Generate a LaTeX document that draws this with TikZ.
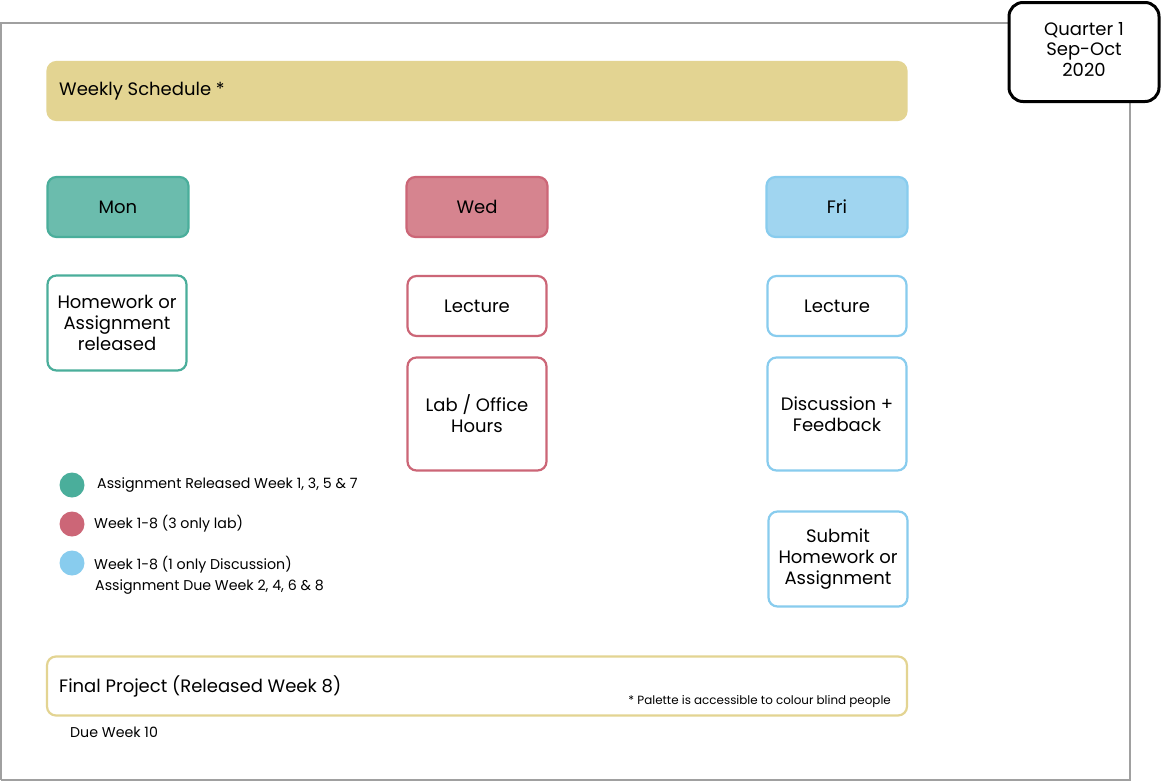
\documentclass[tikz,border=0pt]{standalone}
\usepackage{fontspec}
\setmainfont{Poppins}
\definecolor{ylw}{HTML}{E3D492}
\definecolor{tealF}{HTML}{6BBCAD}
\definecolor{tealS}{HTML}{4AAE9B}
\definecolor{redF}{HTML}{D6848F}
\definecolor{redS}{HTML}{CC6677}
\definecolor{bluF}{HTML}{A0D5F0}
\definecolor{bluS}{HTML}{88CCEE}
\definecolor{frame}{HTML}{A0A0A0}
\tikzset{
  card/.style={draw=#1, line width=2.2pt, rounded corners=9pt, inner sep=2pt,
    align=center, font=\fontsize{18}{21}\selectfont, text=black},
  small/.style={font=\fontsize{14.2}{16}\selectfont, inner sep=0pt, text=black},
  dot/.style={circle, fill=#1, minimum size=25pt, inner sep=0pt},
}
\begin{document}
\begin{tikzpicture}[x=1pt,y=-1pt]
\useasboundingbox (0,0) rectangle (1162,782);
\fill[white] (0,0) rectangle (1162,782);
% outer frame
\draw[frame, line width=1.5pt] (1,780) -- (1,23) -- (1010,23);
\draw[frame, line width=1.5pt] (1130,100) -- (1130,780) -- (1,780);
% quarter
\node[draw=black, fill=white, line width=3pt, rounded corners=14pt,
  minimum width=150pt, minimum height=99pt] (q) at (1084,52) {};
\node[align=center, inner sep=0pt, font=\fontsize{18}{20.5}\selectfont]
  (qt) at (1084,49) {Quarter 1\\Sep-Oct\\2020};
% title bar
\node[card=ylw, fill=ylw, minimum width=859pt, minimum height=58pt] (ws) at (477,91) {};
\node[anchor=west, font=\fontsize{18}{21}\selectfont, inner sep=0pt] (wst) at (59,91) {Weekly Schedule *};
% day headers
\node[card=tealS, fill=tealF, minimum width=141pt, minimum height=60pt] (mon) at (118,207) {Mon};
\node[card=redS, fill=redF, minimum width=141pt, minimum height=60pt] (wed) at (477,207) {Wed};
\node[card=bluS, fill=bluF, minimum width=141pt, minimum height=60pt] (fri) at (837,207) {Fri};
% Mon column
\node[card=tealS, fill=white, minimum width=139pt, minimum height=95pt] (hw) at (117,323) {Homework or\\Assignment\\released};
% Wed column
\node[card=redS, fill=white, minimum width=139pt, minimum height=60pt] (lw) at (477,306) {Lecture};
\node[card=redS, fill=white, minimum width=139pt, minimum height=113pt] (lab) at (477,414) {Lab / Office\\Hours};
% Fri column
\node[card=bluS, fill=white, minimum width=139pt, minimum height=60pt] (lf) at (837,306) {Lecture};
\node[card=bluS, fill=white, minimum width=139pt, minimum height=113pt] (dis) at (837,414) {Discussion +\\Feedback};
\node[card=bluS, fill=white, minimum width=139pt, minimum height=95pt] (sub) at (838,559) {Submit\\Homework or\\Assignment};
% legend
\node[dot=tealS] (d1) at (72,485) {};
\node[dot=redS] (d2) at (72,524) {};
\node[dot=bluS] (d3) at (72,563) {};
\node[small, anchor=west] (l1) at (97,485) {Assignment Released Week 1, 3, 5 \& 7};
\node[small, anchor=west] (l2) at (94,524) {Week 1-8 (3 only lab)};
\node[small, anchor=west] (l3) at (94,565) {Week 1-8 (1 only Discussion)};
\node[small, anchor=west] (l4) at (95,587) {Assignment Due Week 2, 4, 6 \& 8};
% final project
\node[card=ylw, fill=white, minimum width=860pt, minimum height=59pt] (fp) at (477,686) {};
\node[anchor=west, font=\fontsize{18}{21}\selectfont, inner sep=0pt] (fpt) at (59,686) {Final Project (Released Week 8)};
\node[anchor=east, font=\fontsize{11.9}{14}\selectfont, inner sep=0pt] (pal) at (891,702) {* Palette is accessible to colour blind people};
\node[small, anchor=west] (due) at (70,732) {Due Week 10};
\end{tikzpicture}
\end{document}
